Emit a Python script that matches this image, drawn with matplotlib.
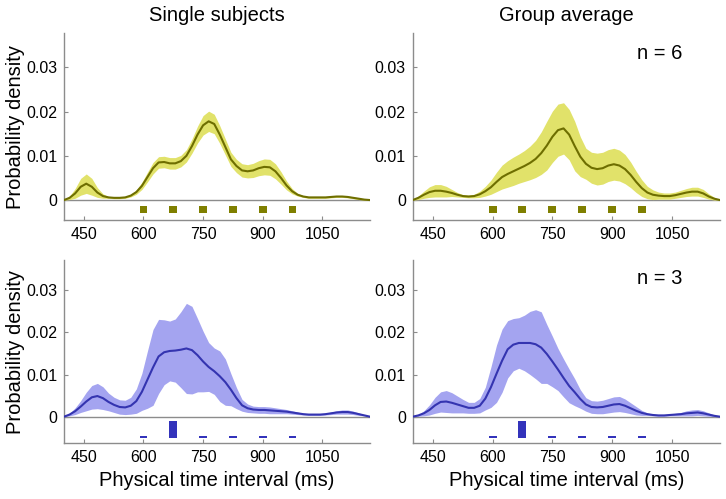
import numpy as np
import matplotlib
matplotlib.use("Agg")
import matplotlib.pyplot as plt

plt.rcParams['font.family'] = ['Liberation Sans', 'DejaVu Sans']

# time grid (ms)
t = np.arange(400, 1171, 14)

# ---- Single subjects, uniform (yellow) ----
ss_uni_mean = [0.0000, 0.0005, 0.0015, 0.0030, 0.0037, 0.0030, 0.0017, 0.0009, 0.0006, 0.0005,
               0.0005, 0.0006, 0.0010, 0.0018, 0.0032, 0.0052, 0.0072, 0.0085, 0.0086, 0.0083,
               0.0083, 0.0088, 0.0100, 0.0122, 0.0148, 0.0169, 0.0178, 0.0172, 0.0148, 0.0120,
               0.0092, 0.0077, 0.0067, 0.0065, 0.0067, 0.0072, 0.0075, 0.0074, 0.0065, 0.0050,
               0.0033, 0.0020, 0.0012, 0.0008, 0.0006, 0.0006, 0.0006, 0.0006, 0.0007, 0.0008,
               0.0008, 0.0007, 0.0005, 0.0003, 0.0001, 0.0000]
ss_uni_err = [0.0000, 0.0004, 0.0011, 0.0019, 0.0022, 0.0019, 0.0011, 0.0005, 0.0002, 0.0002,
              0.0002, 0.0002, 0.0003, 0.0005, 0.0008, 0.0011, 0.0013, 0.0013, 0.0013, 0.0013,
              0.0013, 0.0013, 0.0014, 0.0016, 0.0019, 0.0022, 0.0023, 0.0022, 0.0020, 0.0018,
              0.0016, 0.0015, 0.0015, 0.0015, 0.0016, 0.0017, 0.0018, 0.0018, 0.0017, 0.0014,
              0.0010, 0.0006, 0.0003, 0.0002, 0.0002, 0.0002, 0.0002, 0.0002, 0.0002, 0.0002,
              0.0002, 0.0002, 0.0002, 0.0002, 0.0001, 0.0000]

# ---- Group average, uniform (yellow) ----
ga_uni_mean = [0.0000, 0.0005, 0.0012, 0.0018, 0.0021, 0.0021, 0.0019, 0.0016, 0.0012, 0.0009,
               0.0008, 0.0009, 0.0013, 0.0020, 0.0029, 0.0041, 0.0052, 0.0059, 0.0065, 0.0071,
               0.0077, 0.0084, 0.0093, 0.0106, 0.0123, 0.0143, 0.0158, 0.0162, 0.0148, 0.0122,
               0.0098, 0.0082, 0.0073, 0.0070, 0.0072, 0.0078, 0.0081, 0.0078, 0.0070, 0.0057,
               0.0041, 0.0027, 0.0017, 0.0012, 0.0010, 0.0009, 0.0009, 0.0011, 0.0014, 0.0017,
               0.0019, 0.0019, 0.0015, 0.0008, 0.0003, 0.0000]
ga_uni_err = [0.0000, 0.0004, 0.0008, 0.0012, 0.0014, 0.0014, 0.0012, 0.0008, 0.0005, 0.0003,
              0.0003, 0.0004, 0.0007, 0.0011, 0.0016, 0.0022, 0.0027, 0.0030, 0.0032, 0.0033,
              0.0035, 0.0038, 0.0042, 0.0048, 0.0055, 0.0058, 0.0059, 0.0058, 0.0057, 0.0056,
              0.0045, 0.0035, 0.0035, 0.0036, 0.0036, 0.0036, 0.0036, 0.0035, 0.0033, 0.0029,
              0.0024, 0.0019, 0.0014, 0.0011, 0.0008, 0.0007, 0.0007, 0.0007, 0.0008, 0.0009,
              0.0010, 0.0010, 0.0009, 0.0006, 0.0003, 0.0000]

# ---- Single subjects, peaked (blue) ----
ss_pk_mean = [0.0000, 0.0005, 0.0013, 0.0024, 0.0036, 0.0046, 0.0049, 0.0044, 0.0035, 0.0028,
              0.0023, 0.0022, 0.0026, 0.0037, 0.0059, 0.0088, 0.0117, 0.0143, 0.0153, 0.0156,
              0.0157, 0.0159, 0.0162, 0.0158, 0.0146, 0.0131, 0.0118, 0.0108, 0.0096, 0.0082,
              0.0064, 0.0044, 0.0027, 0.0020, 0.0017, 0.0016, 0.0016, 0.0015, 0.0014, 0.0013,
              0.0012, 0.0010, 0.0008, 0.0006, 0.0005, 0.0005, 0.0005, 0.0006, 0.0008, 0.0010,
              0.0011, 0.0011, 0.0009, 0.0006, 0.0003, 0.0000]
ss_pk_err = [0.0000, 0.0003, 0.0008, 0.0014, 0.0022, 0.0028, 0.0030, 0.0027, 0.0021, 0.0018,
             0.0017, 0.0017, 0.0020, 0.0029, 0.0044, 0.0068, 0.0090, 0.0088, 0.0077, 0.0071,
             0.0075, 0.0090, 0.0107, 0.0104, 0.0087, 0.0072, 0.0058, 0.0055, 0.0060, 0.0055,
             0.0038, 0.0025, 0.0014, 0.0010, 0.0008, 0.0008, 0.0008, 0.0008, 0.0007, 0.0006,
             0.0005, 0.0004, 0.0003, 0.0002, 0.0002, 0.0002, 0.0002, 0.0002, 0.0003, 0.0004,
             0.0005, 0.0005, 0.0004, 0.0003, 0.0001, 0.0000]

# ---- Group average, peaked (blue) ----
ga_pk_mean = [0.0000, 0.0003, 0.0008, 0.0016, 0.0027, 0.0035, 0.0036, 0.0033, 0.0029, 0.0025,
              0.0021, 0.0021, 0.0026, 0.0043, 0.0070, 0.0102, 0.0133, 0.0160, 0.0171, 0.0175,
              0.0175, 0.0175, 0.0172, 0.0164, 0.0149, 0.0131, 0.0112, 0.0092, 0.0073, 0.0058,
              0.0042, 0.0029, 0.0023, 0.0022, 0.0023, 0.0026, 0.0029, 0.0030, 0.0026, 0.0020,
              0.0014, 0.0009, 0.0006, 0.0004, 0.0003, 0.0003, 0.0004, 0.0005, 0.0006, 0.0008,
              0.0009, 0.0010, 0.0008, 0.0005, 0.0002, 0.0000]
ga_pk_err = [0.0000, 0.0002, 0.0006, 0.0012, 0.0019, 0.0024, 0.0026, 0.0024, 0.0020, 0.0016,
             0.0013, 0.0013, 0.0017, 0.0027, 0.0048, 0.0068, 0.0075, 0.0068, 0.0062, 0.0060,
             0.0066, 0.0075, 0.0082, 0.0085, 0.0070, 0.0060, 0.0050, 0.0045, 0.0040, 0.0032,
             0.0022, 0.0016, 0.0015, 0.0015, 0.0016, 0.0017, 0.0018, 0.0018, 0.0016, 0.0013,
             0.0010, 0.0006, 0.0003, 0.0002, 0.0002, 0.0002, 0.0002, 0.0003, 0.0004, 0.0006,
             0.0007, 0.0007, 0.0006, 0.0004, 0.0002, 0.0000]

# stimulus intervals and their prior weights (bar heights)
intervals = [600, 675, 750, 825, 900, 975]
uni_heights = [0.0017, 0.0017, 0.0017, 0.0017, 0.0017, 0.0017]
pk_heights = [0.0004, 0.0041, 0.0004, 0.0004, 0.0004, 0.0004]

xticks = [450, 600, 750, 900, 1050]
yticks = [0, 0.01, 0.02, 0.03]
yticklabels = ["0", "0.01", "0.02", "0.03"]

YEL_FILL = "#e1e26a"
YEL_LINE = "#6e6e00"
YEL_BAR = "#7f7f00"
BLU_FILL = "#a4a4f0"
BLU_LINE = "#3434b0"
BLU_BAR = "#3333bb"
GREY = "#8c8c8c"

fig = plt.figure(figsize=(7.26, 4.99), dpi=100)
W, H = 726, 499

def add_ax(l, t_, r, b):
    return fig.add_axes([l / W, 1 - b / H, (r - l) / W, (b - t_) / H])

axes = {
    "tl": add_ax(64, 33.3, 370, 220),
    "tr": add_ax(412.7, 33.3, 720, 220),
    "bl": add_ax(64, 260, 370, 443.3),
    "br": add_ax(412.7, 260, 720, 443.3),
}

panels = [
    ("tl", ss_uni_mean, ss_uni_err, YEL_FILL, YEL_LINE, YEL_BAR, uni_heights, -0.0030, (-0.00451, 0.0377)),
    ("tr", ga_uni_mean, ga_uni_err, YEL_FILL, YEL_LINE, YEL_BAR, uni_heights, -0.0030, (-0.00451, 0.0377)),
    ("bl", ss_pk_mean, ss_pk_err, BLU_FILL, BLU_LINE, BLU_BAR, pk_heights, -0.0051, (-0.00632, 0.0372)),
    ("br", ga_pk_mean, ga_pk_err, BLU_FILL, BLU_LINE, BLU_BAR, pk_heights, -0.0051, (-0.00632, 0.0372)),
]

for key, m, e, fc, lc, bc, bh, base, ylim in panels:
    ax = axes[key]
    m = np.asarray(m)
    e = np.asarray(e)
    ax.fill_between(t, m - e, m + e, color=fc, lw=0, zorder=2)
    ax.axhline(0, color=GREY, lw=1.0, zorder=1)
    ax.plot(t, m, color=lc, lw=1.5, zorder=3, solid_joinstyle="round")
    ax.bar(intervals, bh, bottom=base, width=20, color=bc, zorder=3)
    ax.set_xlim(400, 1170)
    ax.set_ylim(*ylim)
    ax.set_xticks(xticks)
    ax.set_yticks(yticks)
    ax.set_yticklabels(yticklabels)
    for s in ["top", "right"]:
        ax.spines[s].set_visible(False)
    for s in ["left", "bottom"]:
        ax.spines[s].set_color(GREY)
        ax.spines[s].set_linewidth(1.0)
    ax.tick_params(direction="in", length=3, color=GREY, labelsize=11.5, pad=5)

axes["tl"].set_title("Single subjects", fontsize=14.5, pad=9)
axes["tr"].set_title("Group average", fontsize=14.5, pad=9)
axes["tl"].set_ylabel("Probability density", fontsize=14.5, labelpad=1)
axes["bl"].set_ylabel("Probability density", fontsize=14.5, labelpad=1)
axes["bl"].set_xlabel("Physical time interval (ms)", fontsize=14.5, labelpad=4)
axes["br"].set_xlabel("Physical time interval (ms)", fontsize=14.5, labelpad=4)
axes["tr"].text(0.73, 0.893, "n = 6", transform=axes["tr"].transAxes, fontsize=14.5, ha="left", va="center")
axes["br"].text(0.73, 0.90, "n = 3", transform=axes["br"].transAxes, fontsize=14.5, ha="left", va="center")

fig.savefig("out.png", dpi=100)
